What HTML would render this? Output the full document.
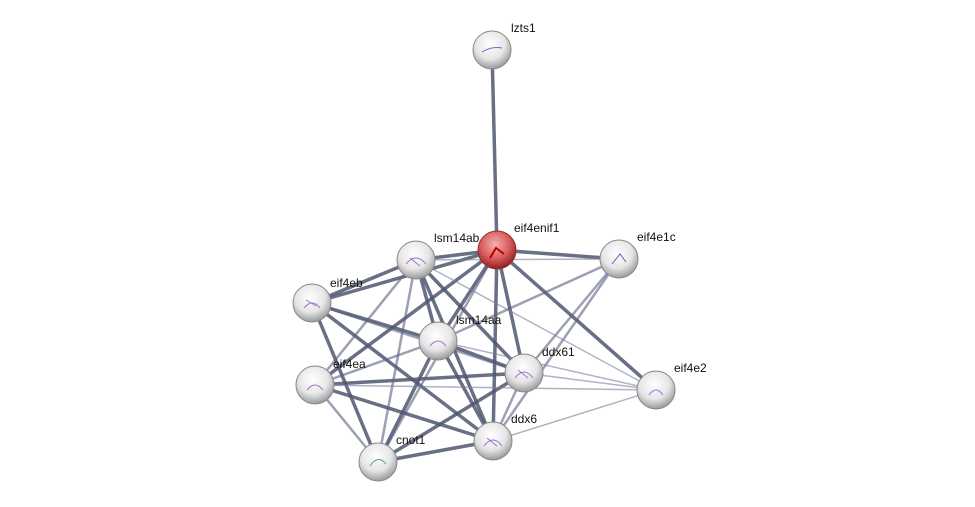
<!DOCTYPE html>
<html><head><meta charset="utf-8"><style>
html,body{margin:0;padding:0;background:#fff;}
svg{display:block;}
text{font-family:"Liberation Sans",sans-serif;font-size:12px;fill:#111;}
</style></head><body>
<svg width="975" height="507" viewBox="0 0 975 507" xmlns="http://www.w3.org/2000/svg">
<defs>
<radialGradient id="g" cx="45%" cy="35%" r="65%">
<stop offset="0" stop-color="#ffffff"/><stop offset="0.6" stop-color="#e6e6e6"/><stop offset="1" stop-color="#9a9a9a"/>
</radialGradient>
<radialGradient id="r" cx="45%" cy="35%" r="65%">
<stop offset="0" stop-color="#f4b0b0"/><stop offset="0.6" stop-color="#d85a5a"/><stop offset="1" stop-color="#8e2020"/>
</radialGradient>
</defs>
<g stroke-linecap="round">
<!-- thick -->
<g stroke="#4f5670" stroke-opacity="0.85" stroke-width="3.5">
<line x1="492" y1="50" x2="497" y2="250"/>
<line x1="497" y1="250" x2="416" y2="260"/>
<line x1="497" y1="250" x2="619" y2="259"/>
<line x1="497" y1="250" x2="312" y2="303"/>
<line x1="497" y1="250" x2="438" y2="341"/>
<line x1="497" y1="250" x2="524" y2="373"/>
<line x1="497" y1="250" x2="493" y2="441"/>
<line x1="497" y1="250" x2="315" y2="385"/>
<line x1="497" y1="250" x2="656" y2="390"/>
<line x1="416" y1="260" x2="312" y2="303"/>
<line x1="416" y1="260" x2="438" y2="341"/>
<line x1="416" y1="260" x2="524" y2="373"/>
<line x1="416" y1="260" x2="493" y2="441"/>
<line x1="312" y1="303" x2="438" y2="341"/>
<line x1="312" y1="303" x2="493" y2="441"/>
<line x1="312" y1="303" x2="378" y2="462"/>
<line x1="438" y1="341" x2="524" y2="373"/>
<line x1="438" y1="341" x2="493" y2="441"/>
<line x1="438" y1="341" x2="378" y2="462"/>
<line x1="524" y1="373" x2="315" y2="385"/>
<line x1="524" y1="373" x2="378" y2="462"/>
<line x1="315" y1="385" x2="493" y2="441"/>
<line x1="493" y1="441" x2="378" y2="462"/>
</g>
<!-- medium -->
<g stroke="#5a6180" stroke-opacity="0.6" stroke-width="2.5">
<line x1="497" y1="250" x2="378" y2="462"/>
<line x1="416" y1="260" x2="378" y2="462"/>
<line x1="619" y1="259" x2="524" y2="373"/>
<line x1="619" y1="259" x2="493" y2="441"/>
<line x1="312" y1="303" x2="524" y2="373"/>
<line x1="438" y1="341" x2="315" y2="385"/>
<line x1="524" y1="373" x2="493" y2="441"/>
<line x1="315" y1="385" x2="378" y2="462"/>
<line x1="619" y1="259" x2="438" y2="341"/>
<line x1="416" y1="260" x2="315" y2="385"/>
</g>
<!-- thin -->
<g stroke="#7a80a0" stroke-opacity="0.6" stroke-width="1.5">
<line x1="416" y1="260" x2="619" y2="259"/>
<line x1="416" y1="260" x2="656" y2="390"/>
<line x1="438" y1="341" x2="656" y2="390"/>
<line x1="524" y1="373" x2="656" y2="390"/>
<line x1="315" y1="385" x2="656" y2="390"/>
<line x1="493" y1="441" x2="656" y2="390"/>
</g>
</g>
<g stroke="#888" stroke-width="1">
<circle cx="492" cy="50" r="19" fill="url(#g)"/>
<circle cx="416" cy="260" r="19" fill="url(#g)"/>
<circle cx="619" cy="259" r="19" fill="url(#g)"/>
<circle cx="312" cy="303" r="19" fill="url(#g)"/>
<circle cx="438" cy="341" r="19" fill="url(#g)"/>
<circle cx="524" cy="373" r="19" fill="url(#g)"/>
<circle cx="315" cy="385" r="19" fill="url(#g)"/>
<circle cx="656" cy="390" r="19" fill="url(#g)"/>
<circle cx="493" cy="441" r="19" fill="url(#g)"/>
<circle cx="378" cy="462" r="19" fill="url(#g)"/>
<circle cx="497" cy="250" r="19" fill="url(#r)" stroke="#8a3030"/>
</g>
<g fill="none" stroke-width="1">
<path d="M482 52 q10 -6 20 -4" stroke="#6070d0"/>
<path d="M406 264 q10 -12 20 0 M410 258 l10 8" stroke="#a070d0"/>
<path d="M612 264 l8 -10 l6 8" stroke="#5060d0"/>
<path d="M304 308 q8 -10 16 0 M306 300 l10 6" stroke="#a070d0"/>
<path d="M430 346 q8 -10 16 0" stroke="#a070d0"/>
<path d="M515 378 q9 -12 18 0 M518 370 l10 8" stroke="#a070d0"/>
<path d="M307 390 q8 -10 16 0" stroke="#a070d0"/>
<path d="M649 395 q7 -10 14 0" stroke="#a070d0"/>
<path d="M484 446 q9 -12 18 0 M487 438 l10 8" stroke="#a070d0"/>
<path d="M370 466 q8 -12 16 -2" stroke="#40b070"/>
<path d="M490 258 l6 -10 l8 6" stroke="#c00000" stroke-width="2"/>
</g>
<text x="511" y="32">lzts1</text>
<text x="514" y="232">eif4enif1</text>
<text x="434" y="242">lsm14ab</text>
<text x="637" y="241">eif4e1c</text>
<text x="330" y="287">eif4eb</text>
<text x="456" y="324">lsm14aa</text>
<text x="542" y="356">ddx61</text>
<text x="333" y="368">eif4ea</text>
<text x="674" y="372">eif4e2</text>
<text x="511" y="423">ddx6</text>
<text x="396" y="444">cnot1</text>
</svg>
</body></html>
